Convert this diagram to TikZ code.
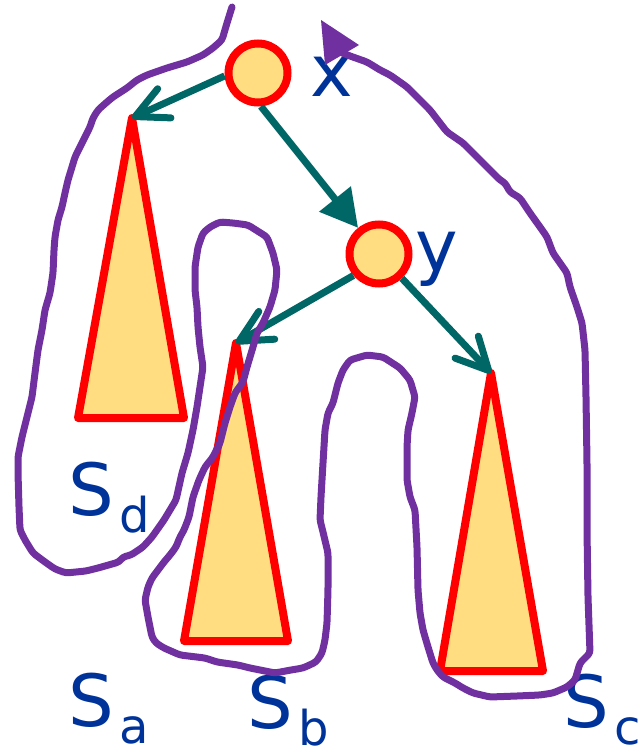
\documentclass[tikz,border=0pt]{standalone}
\usepackage{fontspec}
\setmainfont{DejaVu Sans}
\usetikzlibrary{arrows.meta}
\definecolor{pathpurple}{RGB}{112,48,160}
\definecolor{edgeteal}{RGB}{0,102,102}
\definecolor{nodefill}{RGB}{255,221,128}
\definecolor{labelblue}{RGB}{0,51,153}
\newcommand{\sublbl}[2]{#1\kern6pt\raisebox{-17pt}{\fontsize{48}{56}\selectfont #2}}
\begin{document}
\begin{tikzpicture}[x=1pt,y=-1pt,
  treenode/.style={circle, draw=red, line width=8pt, fill=nodefill, minimum size=59pt, inner sep=0pt},
  subtree/.style={draw=red, line width=8pt, fill=nodefill, line join=round},
  childedge/.style={draw=edgeteal, line width=7pt, -{Straight Barb[length=32pt,width=32pt,round]}},
  mainedge/.style={draw=edgeteal, line width=7pt, -{Triangle[length=37pt,width=39pt]}},
  lbltext/.style={text=labelblue, font=\fontsize{72}{86}\selectfont, inner sep=0pt, outer sep=0pt, anchor=base west},
  walk/.style={draw=pathpurple, line width=7pt, line join=round, line cap=round, rounded corners=3pt}]
\useasboundingbox (0,0) rectangle (643,754);

% subtrees
\coordinate (apexd) at (132,118);
\coordinate (apexb) at (236,343);
\coordinate (apexc) at (491,373);
\path[subtree] (apexd) -- (78,418) -- (184,418) -- cycle;
\path[subtree] (apexb) -- (184,641) -- (288,641) -- cycle;
\path[subtree] (apexc) -- (440,671) -- (543,671) -- cycle;

% tree nodes
\node[treenode] (x) at (258,73) {};
\node[treenode] (y) at (379,254) {};

% edges
\draw[childedge] (x.185) -- (apexd);
\draw[mainedge] (x.-85) -- (y);
\draw[childedge] (y.220) -- (apexb);
\draw[childedge] (y) -- (apexc);

% labels
\node[lbltext] (lx) at (310,97) {x};
\node[lbltext] (ly) at (415,271) {y};
\node[lbltext] (sd) at (68,515) {\sublbl{S}{d}};
\node[lbltext] (sa) at (68,726) {\sublbl{S}{a}};
\node[lbltext] (sb) at (247,728) {\sublbl{S}{b}};
\node[lbltext] (sc) at (563,727) {\sublbl{S}{c}};

% Euler walk
\draw[walk] (232,7) -- (227,23) -- (222,40) -- (213,48) -- (203,55) -- (187,62) -- (167,68) -- (147,75) -- (137,80) -- (127,88) -- (113,97) -- (107,102) -- (98,110) -- (93,118) -- (90,127) -- (85,137) -- (80,147) -- (75,157) -- (72,167) -- (68,180) -- (65,193) -- (62,207) -- (58,220) -- (55,237) -- (54,250) -- (53,273) -- (50,293) -- (45,310) -- (42,330) -- (38,350) -- (35,373) -- (32,397) -- (27,417) -- (22,437) -- (18,457) -- (18,473) -- (19,507) -- (20,530) -- (25,540) -- (33,553) -- (45,562) -- (55,569) -- (66,573) -- (86,571) -- (98,568) -- (119,562) -- (123,557) -- (131,555) -- (143,547) -- (152,537) -- (164,520) -- (176,500) -- (182,473) -- (188,453) -- (193,430) -- (197,407) -- (200,387) -- (203,367) -- (200,347) -- (198,327) -- (197,307) -- (195,290) -- (195,267) -- (198,247) -- (203,233) -- (210,227) -- (220,222) -- (233,223) -- (248,225) -- (267,237) -- (273,253) -- (277,270) -- (275,290) -- (270,307) -- (263,323) -- (257,333) -- (253,347) -- (247,367) -- (243,382) -- (235,393) -- (230,407) -- (225,423) -- (220,443) -- (213,457) -- (205,467) -- (199,480) -- (193,497) -- (189,517) -- (184,530) -- (180,537) -- (176,547) -- (170,555) -- (164,562) -- (158,570) -- (152,578) -- (148,587) -- (145,600) -- (148,617) -- (152,637) -- (156,643) -- (164,648) -- (180,655) -- (205,658) -- (217,662) -- (238,665) -- (250,668) -- (275,673) -- (291,670) -- (303,668) -- (316,662) -- (322,653) -- (325,640) -- (327,623) -- (328,590) -- (328,553) -- (323,532) -- (320,520) -- (321,497) -- (323,463) -- (325,430) -- (328,413) -- (333,403) -- (338,383) -- (343,370) -- (350,360) -- (367,355) -- (383,357) -- (400,368) -- (410,380) -- (415,397) -- (412,413) -- (408,430) -- (407,447) -- (407,480) -- (410,497) -- (415,510) -- (417,547) -- (418,590) -- (420,613) -- (423,630) -- (428,647) -- (433,663) -- (437,670) -- (443,677) -- (455,683) -- (463,688) -- (473,693) -- (490,697) -- (517,696) -- (540,695) -- (553,693) -- (567,687) -- (575,680) -- (578,670) -- (580,663) -- (590,653) -- (588,597) -- (587,530) -- (587,463) -- (586,397) -- (585,350) -- (582,323) -- (577,307) -- (570,287) -- (567,273) -- (560,263) -- (553,253) -- (547,237) -- (540,227) -- (530,213) -- (520,198) -- (510,192) -- (505,183) -- (500,180) -- (487,167) -- (473,153) -- (463,143) -- (447,132) -- (440,123) -- (430,110) -- (417,97) -- (407,87) -- (390,75) -- (380,70) -- (367,62) -- (350,56) -- (340,52);
\fill[pathpurple] (321,20) -- (359,45) -- (325,65) -- cycle;
\end{tikzpicture}
\end{document}
